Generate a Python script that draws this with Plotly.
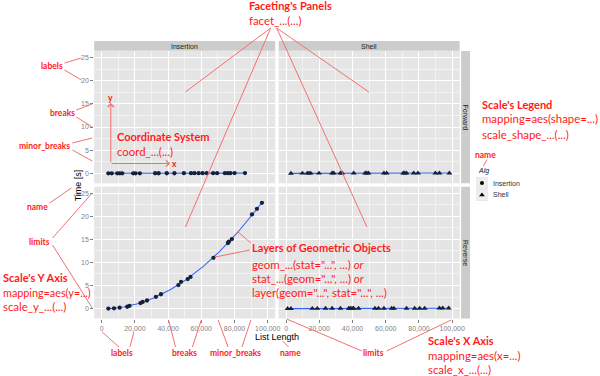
import numpy as np
import plotly.graph_objects as go

# ---------------- data ----------------
algs = ["Insertion", "Shell"]
orders = ["Forward", "Reverse"]

ins_fwd_x = [4050, 6100, 9400, 10900, 12400, 19000, 20400, 23000, 32200, 34300, 39200, 43800,
             49500, 53800, 55900, 58400, 60800, 63300, 67100, 69500, 74200, 76000, 77500, 80000, 86300]
ins_fwd_y = [0.0, 0.0, 0.01, 0.01, 0.01, 0.01, 0.01, 0.01, 0.02, 0.02, 0.02, 0.02,
             0.03, 0.03, 0.03, 0.03, 0.03, 0.04, 0.04, 0.04, 0.04, 0.04, 0.04, 0.05, 0.05]

ins_rev_x = [4050, 7450, 10850, 15400, 16800, 23400, 24700, 27300, 32700, 35700, 46200,
             47800, 51800, 53500, 67300, 76000, 76600, 78400, 90500, 93500, 96500]
ins_rev_y = [0.0, 0.05, 0.2, 0.4, 0.6, 1.2, 1.45, 1.75, 2.55, 3.1, 5.1,
             5.8, 6.4, 6.85, 11.0, 14.2, 14.5, 15.05, 20.4, 21.6, 22.9]

shell_fwd_x = [2900, 9800, 12800, 13800, 14800, 19800, 27700, 28700, 32700, 33700, 40700, 47600,
               48600, 49600, 58900, 60500, 70500, 71400, 72500, 76800, 79400, 89900, 92300, 98300]
shell_fwd_y = [0.0, 0.01, 0.01, 0.01, 0.01, 0.01, 0.02, 0.02, 0.02, 0.02, 0.03, 0.03,
               0.03, 0.03, 0.04, 0.04, 0.05, 0.05, 0.05, 0.05, 0.05, 0.06, 0.06, 0.06]

shell_rev_x = [900, 2900, 15800, 18800, 23700, 27700, 32700, 37700, 38600, 39700, 40700, 43600,
               53500, 55600, 58900, 63500, 64900, 72500, 77400, 80400, 83400, 92300, 94300, 97900]
shell_rev_y = [0.0, 0.0, 0.01, 0.01, 0.02, 0.02, 0.02, 0.03, 0.03, 0.03, 0.03, 0.03,
               0.04, 0.04, 0.04, 0.05, 0.05, 0.05, 0.06, 0.06, 0.06, 0.07, 0.07, 0.07]

y_ticks = [0, 5, 10, 15, 20, 25]
x_ticks = [0, 20000, 40000, 60000, 80000, 100000]

# ---------------- style ----------------
W, H = 600, 376
RED = "#FF1A1A"
LINE_RED = "#F47070"
PANEL_BG = "#E5E5E5"
STRIP_BG = "#CCCCCC"
TICK_GREY = "#7F7F7F"
PT = "#15203A"
SMOOTH = "#3366FF"
FONT = "Lato"
TFONT = "Liberation Sans"
BOLD = 11
REG = 11.4
SMALL = 8.5

XL = [95, 277.5]
XR = [281, 463.5]
YT = [51, 183.3]
YB = [186.7, 318.5]
XRANGE = [-4470, 104470]
YRANGE = [-2.15, 26.4]


def px(x):
    return x / W


def py(y):
    return 1 - y / H


fig = go.Figure()

panels = [
    ("x", "y", ins_fwd_x, ins_fwd_y, "circle", "Insertion"),
    ("x3", "y3", ins_rev_x, ins_rev_y, "circle", "Insertion"),
    ("x2", "y2", shell_fwd_x, shell_fwd_y, "triangle-up", "Shell"),
    ("x4", "y4", shell_rev_x, shell_rev_y, "triangle-up", "Shell"),
]

for xa, ya, xs, ys, sym, name in panels:
    xs_a = np.array(xs, float)
    ys_a = np.array(ys, float)
    coef = np.polyfit(xs_a, ys_a, 2)
    xx = np.linspace(xs_a.min(), xs_a.max(), 80)
    fig.add_trace(go.Scatter(x=xx, y=np.polyval(coef, xx), mode="lines", xaxis=xa, yaxis=ya,
                             line=dict(color=SMOOTH, width=1.1), showlegend=False, hoverinfo="skip"))
    fig.add_trace(go.Scatter(x=xs, y=ys, mode="markers", xaxis=xa, yaxis=ya, name=name,
                             marker=dict(symbol=sym, size=4.3 if sym == "circle" else 5.3, color=PT),
                             showlegend=False))

# legend keys drawn on a small hidden axis
symbols = ["circle", "triangle-up"]
for a, s in zip(algs, symbols):
    fig.add_trace(go.Scatter(x=[0.5], y=[a], mode="markers", xaxis="x5", yaxis="y5",
                             marker=dict(symbol=s, size=4 if s == "circle" else 5, color="black"),
                             showlegend=False, hoverinfo="skip"))

common_x = dict(range=XRANGE, tickvals=x_ticks, showgrid=True, gridcolor="white", gridwidth=1.2,
                zeroline=False, showline=False,
                minor=dict(dtick=10000, tick0=0, showgrid=True, gridcolor="#F2F2F2", gridwidth=0.6))
common_y = dict(range=YRANGE, tickvals=y_ticks, showgrid=True, gridcolor="white", gridwidth=1.2,
                zeroline=False, showline=False,
                minor=dict(dtick=2.5, tick0=0, showgrid=True, gridcolor="#F2F2F2", gridwidth=0.6))
tick_on = dict(ticks="outside", ticklen=3, tickcolor=TICK_GREY, tickwidth=1,
               tickfont=dict(size=7, color=TICK_GREY, family=TFONT))

fig.update_layout(
    width=W, height=H, margin=dict(l=0, r=0, t=0, b=0),
    paper_bgcolor="white", plot_bgcolor=PANEL_BG, showlegend=False,
    xaxis=dict(domain=[px(XL[0]), px(XL[1])], anchor="y", showticklabels=False, **common_x),
    xaxis2=dict(domain=[px(XR[0]), px(XR[1])], anchor="y2", showticklabels=False, **common_x),
    xaxis3=dict(domain=[px(XL[0]), px(XL[1])], anchor="y3", tickformat=",", **common_x, **tick_on),
    xaxis4=dict(domain=[px(XR[0]), px(XR[1])], anchor="y4", tickformat=",", **common_x, **tick_on),
    yaxis=dict(domain=[py(YT[1]), py(YT[0])], anchor="x", **common_y, **tick_on),
    yaxis2=dict(domain=[py(YT[1]), py(YT[0])], anchor="x2", showticklabels=False, **common_y),
    yaxis3=dict(domain=[py(YB[1]), py(YB[0])], anchor="x3", **common_y, **tick_on),
    yaxis4=dict(domain=[py(YB[1]), py(YB[0])], anchor="x4", showticklabels=False, **common_y),
    xaxis5=dict(domain=[px(480), px(492)], anchor="y5", range=[0, 1], visible=False, fixedrange=True),
    yaxis5=dict(domain=[py(201), py(177)], anchor="x5", type="category",
                categoryorder="array", categoryarray=algs[::-1], range=[-0.5, 1.5],
                visible=False, fixedrange=True),
)

shapes = []
annos = []


def rect(x0, y0, x1, y1, color, layer="below"):
    shapes.append(dict(type="rect", xref="paper", yref="paper", x0=px(x0), x1=px(x1),
                       y0=py(y1), y1=py(y0), fillcolor=color, line=dict(width=0), layer=layer))


def line(x0, y0, x1, y1, color=LINE_RED, w=1):
    shapes.append(dict(type="line", xref="paper", yref="paper", x0=px(x0), y0=py(y0),
                       x1=px(x1), y1=py(y1), line=dict(color=color, width=w)))


def text(x, y, t, size=REG, color=RED, anchor="left", bold=False, italic=False, angle=0, family=FONT):
    if bold:
        t = "<b>" + t + "</b>"
    if italic:
        t = "<i>" + t + "</i>"
    annos.append(dict(x=px(x), y=py(y), xref="paper", yref="paper", text=t, showarrow=False,
                      xanchor=anchor, yanchor="middle", textangle=angle, borderpad=0,
                      font=dict(size=size, color=color, family=family)))


# strips
rect(XL[0], 41, XL[1], 50.7, STRIP_BG)
rect(XR[0], 41, XR[1], 50.7, STRIP_BG)
rect(465, YT[0], 474, YT[1], STRIP_BG)
rect(465, YB[0], 474, YB[1], STRIP_BG)
text((XL[0] + XL[1]) / 2, 46, algs[0], 7, "#1A1A1A", "center", family=TFONT)
text((XR[0] + XR[1]) / 2, 46, algs[1], 7, "#1A1A1A", "center", family=TFONT)
text(469.5, (YT[0] + YT[1]) / 2, orders[0], 7, "#1A1A1A", "center", angle=90, family=TFONT)
text(469.5, (YB[0] + YB[1]) / 2, orders[1], 7, "#1A1A1A", "center", angle=90, family=TFONT)

# axis titles
text(79, 185, "Time [s]", 9, "black", "center", angle=-90, family=TFONT)
text(279, 337, "List Length", 9, "black", "center", family=TFONT)

# legend
text(481, 171.5, "Alg", 7, "#1A1A1A", "left", italic=True, family=TFONT)
rect(480, 177.5, 492, 188.5, "#EDEDED")
rect(480, 189.5, 492, 200.5, "#EDEDED")
text(496, 183, algs[0], 7, "#333333", "left", family=TFONT)
text(496, 195, algs[1], 7, "#333333", "left", family=TFONT)

# ---- red annotations ----
# Faceting
text(250, 6, "Faceting's Panels", BOLD, bold=True)
text(250, 20, "facet_...(...)")
line(273, 28, 187, 92)
line(273, 28, 187, 227)
line(279, 28, 372, 92)
line(279, 28, 370, 227)

# left side labels
text(52, 66, "labels", SMALL, bold=True, anchor="center")
line(65, 63, 82, 58)
line(65, 70, 82, 80)
text(63, 113, "breaks", SMALL, bold=True, anchor="center")
line(77, 110, 93, 104)
line(77, 117, 93, 127)
text(45, 146, "minor_breaks", SMALL, bold=True, anchor="center")
line(73, 143, 93, 138)
line(73, 150, 93, 161)
text(38, 207, "name", SMALL, bold=True, anchor="center")
line(50, 203, 72, 188)
text(40, 242, "limits", SMALL, bold=True, anchor="center")
line(53, 238, 93, 193)
line(53, 245, 93, 308)

text(2, 277, "Scale's Y Axis", BOLD, bold=True)
text(2, 292.5, "mapping=aes(y=...)", 10.8)
text(2, 306, "scale_y_...(...)")

# coordinate system
text(117, 136, "Coordinate System", BOLD, bold=True)
text(117, 151, "coord_...(...)")
annos.append(dict(x=px(111.7), y=py(103), xref="paper", yref="paper", text="", showarrow=True,
                  ax=0, ay=60.5, arrowhead=4, arrowsize=1.2, arrowwidth=1, arrowcolor=LINE_RED))
annos.append(dict(x=px(171.5), y=py(163.5), xref="paper", yref="paper", text="", showarrow=True,
                  ax=-60, ay=0, arrowhead=4, arrowsize=1.2, arrowwidth=1, arrowcolor=LINE_RED))
text(111.7, 98, "y", SMALL, bold=True, anchor="center")
text(175.5, 164, "x", SMALL, bold=True, anchor="center")

# bottom labels
text(123, 353, "labels", SMALL, bold=True, anchor="center")
line(120, 347, 103, 332)
line(131, 347, 135, 332)
text(186, 353, "breaks", SMALL, bold=True, anchor="center")
line(177, 347, 170, 320)
line(194, 347, 203, 320)
text(237, 353, "minor_breaks", SMALL, bold=True, anchor="center")
line(230, 347, 220, 320)
line(244, 347, 253, 320)
text(293, 353, "name", SMALL, bold=True, anchor="center")
line(291, 347, 285, 341)
text(377, 353, "limits", SMALL, bold=True, anchor="center")
line(365, 351, 289, 319)
line(390, 351, 455, 320)

text(431, 340, "Scale's X Axis", BOLD, bold=True)
text(431, 355, "mapping=aes(x=...)")
text(431, 369, "scale_x_...(...)")

# layers
text(253, 248, "Layers of Geometric Objects", BOLD, bold=True)
text(253, 264, 'geom_...(stat="...", ...) <i>or</i>')
text(253, 278, 'stat_...(geom="...", ...) <i>or</i>')
text(253, 292, 'layer(geom="...", stat="...", ...)')
line(252, 250, 217, 257)
line(253, 243, 240, 232)

# legend scale
text(485, 104, "Scale's Legend", BOLD, bold=True)
text(485, 119, "mapping=aes(shape=...)")
text(485, 134, "scale_shape_...(...)")
text(490, 155, "name", SMALL, bold=True, anchor="center")
line(491, 159.5, 487.5, 166)

fig.update_layout(shapes=shapes, annotations=annos)
fig.write_html("out.html", config={"displayModeBar": False},
               post_script="document.body.style.margin='0px';")
